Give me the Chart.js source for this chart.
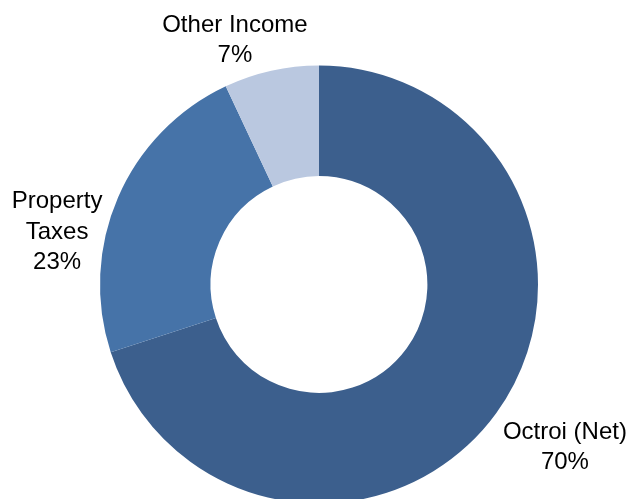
<!DOCTYPE html>
<html>
<head>
<meta charset="utf-8">
<script src="https://cdn.jsdelivr.net/npm/chart.js@4/dist/chart.umd.min.js"></script>
<style>
  html, body { margin: 0; padding: 0; background: #ffffff; overflow: hidden; width: 631px; height: 499px; }
  #wrap { position: absolute; left: 0; top: 0; width: 631px; height: 569px; }
</style>
</head>
<body>
<div id="wrap"><canvas id="c" width="631" height="569"></canvas></div>
<script>
const categories = ["Octroi (Net)", "Property Taxes", "Other Income"];
const labelLines = [["Octroi (Net)"], ["Property", "Taxes"], ["Other Income"]];
const shares = [70, 23, 7];
const percentLabels = ["70%", "23%", "7%"];
const sliceColors = ["#3C5F8D", "#4673A8", "#BAC8E0"];

// label anchors relative to the doughnut centre, in units of outer radius
const labelAnchors = [
  { dx: 1.123, dy: 0.705 },
  { dx: -1.196, dy: -0.348 },
  { dx: -0.384, dy: -1.154 }
];

const outsideLabels = {
  id: 'outsideLabels',
  afterDatasetsDraw(chart) {
    const ctx = chart.ctx;
    const meta = chart.getDatasetMeta(0);
    ctx.save();
    ctx.font = '24px "Liberation Sans", Arial, sans-serif';
    ctx.fillStyle = '#000000';
    ctx.textAlign = 'center';
    ctx.textBaseline = 'alphabetic';
    const lineGap = 30.5;
    meta.data.forEach((arc, i) => {
      const { x, y, outerRadius } = arc.getProps(['x', 'y', 'outerRadius'], true);
      const ax = x + labelAnchors[i].dx * outerRadius;
      let ay = y + labelAnchors[i].dy * outerRadius;
      const lines = labelLines[i].concat([percentLabels[i]]);
      lines.forEach((t, k) => {
        ctx.fillText(t, ax, ay + k * lineGap);
      });
    });
    ctx.restore();
  }
};

new Chart(document.getElementById('c'), {
  type: 'doughnut',
  data: {
    labels: categories,
    datasets: [{
      data: shares,
      backgroundColor: sliceColors,
      borderWidth: 0,
      hoverOffset: 0
    }]
  },
  options: {
    responsive: false,
    animation: false,
    cutout: '49.5%',
    rotation: 0,
    layout: { padding: { left: 100, right: 93, top: 65.5, bottom: 65.5 } },
    plugins: {
      legend: { display: false },
      tooltip: { enabled: false },
      title: { display: false }
    },
    events: []
  },
  plugins: [outsideLabels]
});
</script>
</body>
</html>
